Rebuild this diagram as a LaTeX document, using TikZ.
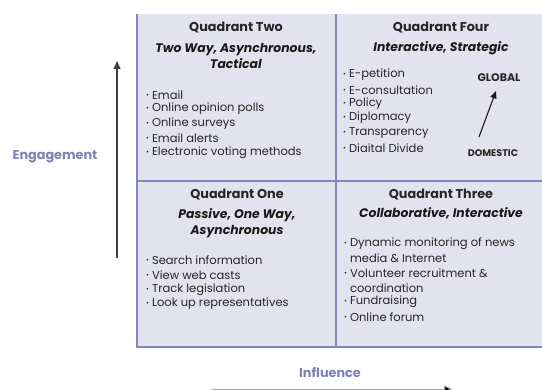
\documentclass[tikz,border=0pt]{standalone}
\usepackage{fontspec}
\setmainfont{Poppins}
\usetikzlibrary{arrows.meta,positioning}

\definecolor{quadfill}{HTML}{E3E3F0}
\definecolor{quadline}{HTML}{8585BA}
\definecolor{axislbl}{HTML}{7F7FB8}

\newcommand{\blt}{{\fontsize{7}{7}\selectfont\raisebox{0.35ex}{•}}\hspace{3pt}}

\begin{document}
\begin{tikzpicture}[
  x=1pt,y=-1pt,
  font=\fontsize{11.5}{12}\selectfont,
  grid/.style={draw=quadline,line width=1.8pt},
  qtitle/.style={font=\fontsize{12.8}{14}\selectfont\bfseries,text=black!85},
  qsub/.style={font=\fontsize{12.4}{16.5}\selectfont\bfseries\itshape,text=black!90},
  item/.style={anchor=west,inner sep=0pt,text=black!85},
  axis/.style={font=\fontsize{12.8}{14}\selectfont\bfseries,text=axislbl},
  engarrow/.style={draw=black!75,line width=1.6pt,-{Triangle[length=2.8mm,width=2.4mm]}},
  infarrow/.style={draw=black!35,line width=0.8pt,-{Triangle[length=2.8mm,width=2.4mm,fill=black]}},
  scopearrow/.style={draw=black!90,line width=1.1pt,-{Triangle[length=2.6mm,width=2.2mm]}},
  tag/.style={text=black!85}
]
\useasboundingbox (0,0) rectangle (542,390);

% ---- quadrant panel ----
\fill[quadfill] (137,14) rectangle (542,347);
\draw[grid] (137,14) -- (137,347) -- (542,347);
\draw[grid] (336,14) -- (336,347);
\draw[grid,line width=1.4pt] (137,181) -- (542,181);

% ---- quadrant two ----
\node[qtitle] (q2t) at (236,28) {Quadrant Two};
\node[qsub,align=center] (q2s) at (236,56) {Two Way, Asynchronous,\\ Tactical};
\foreach \y/\t [count=\i] in {95/Email, 109/Online opinion polls, 124/Online surveys,
    138/Email alerts, 153/Electronic voting methods}
  \node[item] (q2-\i) at (146,\y) {\blt\t};

% ---- quadrant four ----
\node[qtitle] (q4t) at (441,28) {Quadrant Four};
\node[qsub] (q4s) at (441,48) {Interactive, Strategic};
\foreach \y/\t [count=\i] in {75/E-petition, 90/E-consultation, 104/Policy,
    118/Diplomacy, 133/Transparency, 148/Diaital Divide}
  \node[item] (q4-\i) at (343,\y) {\blt\t};
\node[tag,font=\fontsize{11}{12}\selectfont\bfseries] (global) at (499,78) {GLOBAL};
\node[tag,font=\fontsize{9.6}{11}\selectfont\bfseries] (domestic) at (493,153) {DOMESTIC};
\coordinate (dom) at (479,137);
\coordinate (glo) at (496,91);
\draw[scopearrow] (dom) -- (glo);

% ---- quadrant one ----
\node[qtitle] (q1t) at (237,195) {Quadrant One};
\node[qsub,align=center] (q1s) at (237,223) {Passive, One Way,\\ Asynchronous};
\foreach \y/\t [count=\i] in {260/Search information, 275/View web casts,
    290/Track legislation, 304/Look up representatives}
  \node[item] (q1-\i) at (146,\y) {\blt\t};

% ---- quadrant three ----
\node[qtitle] (q3t) at (441,195) {Quadrant Three};
\node[qsub] (q3s) at (441,213) {Collaborative, Interactive};
\foreach \y/\t [count=\i] in {244/\blt Dynamic monitoring of news,
    258/\phantom{\blt}media \& Internet, 273/\blt Volunteer recruitment \&,
    288/\phantom{\blt}coordination, 302/\blt Fundraising, 317/\blt Online forum}
  \node[item] (q3-\i) at (344,\y) {\t};

% ---- axes ----
\coordinate (eng0) at (117,258);
\coordinate (eng1) at (117,61);
\draw[engarrow] (eng0) -- (eng1);
\node[axis] (engage) at (55,157) {Engagement};

\node[axis] (influ) at (330,373) {Influence};
\coordinate (inf0) at (212,389);
\coordinate (inf1) at (452,389);
\draw[infarrow] (inf0) -- (inf1);

\end{tikzpicture}
\end{document}
